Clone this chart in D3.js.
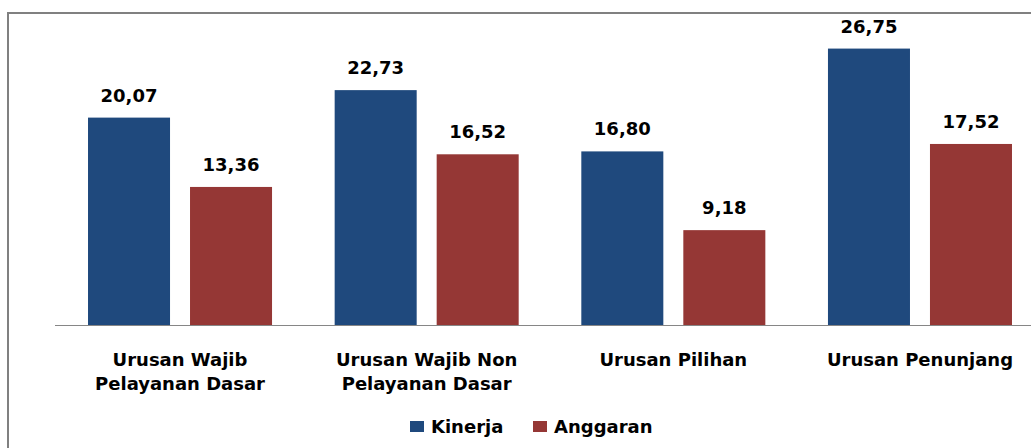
<!DOCTYPE html>
<html>
<head>
<meta charset="utf-8">
<script src="https://cdn.jsdelivr.net/npm/d3@7/dist/d3.min.js"></script>
<style>
  html, body { margin: 0; padding: 0; background: #fff; }
  svg { display: block; }
  text { font-family: "DejaVu Sans", Verdana, sans-serif; font-weight: bold; fill: #000; }
</style>
</head>
<body>
<div id="chart"></div>
<script>
const categories = [
  ["Urusan Wajib", "Pelayanan Dasar"],
  ["Urusan Wajib Non", "Pelayanan Dasar"],
  ["Urusan Pilihan"],
  ["Urusan Penunjang"]
];
const seriesNames = ["Kinerja", "Anggaran"];
const kinerja = [20.07, 22.73, 16.80, 26.75];
const anggaran = [13.36, 16.52, 9.18, 17.52];
const colors = ["#1f497d", "#953735"];

const W = 1031, H = 448;
const svg = d3.select("#chart").append("svg").attr("width", W).attr("height", H);

// frame
svg.append("rect").attr("x", 8).attr("y", 13).attr("width", 1100).attr("height", 500)
  .attr("fill", "none").attr("stroke", "#808080").attr("stroke-width", 2);

const catKeys = categories.map((c, i) => i);
const x0 = d3.scaleBand().domain(catKeys).range([56.7, 1043.3]).paddingInner(0).paddingOuter(0);
const x1 = d3.scaleBand().domain(seriesNames).range([0, x0.bandwidth()]).paddingInner(0.196).paddingOuter(0.307);
const y = d3.scaleLinear().domain([0, 30]).range([325, 15]);

const data = catKeys.map(i => ({ i, values: [kinerja[i], anggaran[i]] }));
const fmt = v => d3.format(".2f")(v).replace(".", ",");

const g = svg.selectAll("g.cat").data(data).enter().append("g")
  .attr("class", "cat").attr("transform", d => `translate(${x0(d.i)},0)`);

g.selectAll("rect").data(d => d.values.map((v, k) => ({ v, k }))).enter().append("rect")
  .attr("x", d => x1(seriesNames[d.k]))
  .attr("width", x1.bandwidth())
  .attr("y", d => y(d.v))
  .attr("height", d => y(0) - y(d.v))
  .attr("fill", d => colors[d.k]);

g.selectAll("text.val").data(d => d.values.map((v, k) => ({ v, k }))).enter().append("text")
  .attr("class", "val")
  .attr("x", d => x1(seriesNames[d.k]) + x1.bandwidth() / 2)
  .attr("y", d => y(d.v) - 16)
  .attr("text-anchor", "middle")
  .style("font-size", "18px")
  .text(d => fmt(d.v));

// baseline axis
svg.append("line").attr("x1", 55).attr("x2", W).attr("y1", y(0) + 0.5).attr("y2", y(0) + 0.5)
  .attr("stroke", "#868686").attr("stroke-width", 1);

// category labels
g.each(function(d) {
  const t = d3.select(this).append("text")
    .attr("text-anchor", "middle")
    .style("font-size", "18px");
  categories[d.i].forEach((line, li) => {
    t.append("tspan").attr("x", x0.bandwidth() / 2).attr("y", 366 + li * 24).text(line);
  });
});

// legend
const legend = [{ name: "Kinerja", x: 410 }, { name: "Anggaran", x: 533 }];
legend.forEach((l, k) => {
  svg.append("rect").attr("x", l.x).attr("y", 421).attr("width", 14).attr("height", 11).attr("fill", colors[k]);
  svg.append("text").attr("x", l.x + 21).attr("y", 433).style("font-size", "18px").text(seriesNames[k]);
});
</script>
</body>
</html>
